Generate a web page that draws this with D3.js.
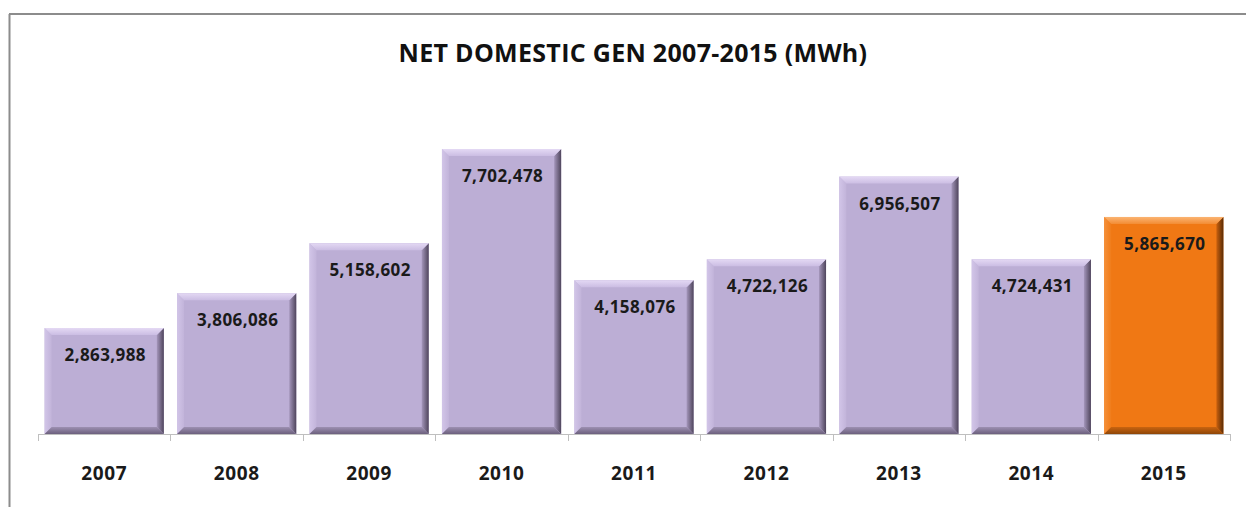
<!DOCTYPE html>
<html>
<head>
<meta charset="utf-8">
<script src="https://cdn.jsdelivr.net/npm/d3@7"></script>
<style>
  body { margin: 0; background: #fff; }
  svg { display: block; }
</style>
</head>
<body>
<svg width="1246" height="507"></svg>
<script>
// data
var years = ["2007", "2008", "2009", "2010", "2011", "2012", "2013", "2014", "2015"];
var generation = [2863988, 3806086, 5158602, 7702478, 4158076, 4722126, 6956507, 4724431, 5865670];
var highlightYear = "2015";
var chartTitle = "NET DOMESTIC GEN 2007-2015 (MWh)";

var svg = d3.select("svg");
var margin = {left: 38, right: 16, top: 101, bottom: 73};
var width = 1246 - margin.left - margin.right,
    height = 507 - margin.top - margin.bottom;

var data = years.map(function(y, i) { return {year: y, value: generation[i]}; });

var x = d3.scaleBand().domain(years).range([0, width]).paddingInner(0.1).paddingOuter(0.05);
var y = d3.scaleLinear().domain([0, 9000000]).range([height, 0]);

// frame
svg.append("line").attr("x1", 9).attr("x2", 1246).attr("y1", 14).attr("y2", 14)
  .attr("stroke", "#8c8c8c").attr("stroke-width", 2);
svg.append("line").attr("x1", 9.5).attr("x2", 9.5).attr("y1", 14).attr("y2", 507)
  .attr("stroke", "#8c8c8c").attr("stroke-width", 2);

svg.append("text")
  .attr("x", 633).attr("y", 62)
  .attr("text-anchor", "middle")
  .style("font-family", "'Open Sans', sans-serif")
  .style("font-weight", "bold")
  .style("font-size", "25px")
  .style("letter-spacing", "0.3px")
  .attr("fill", "#111")
  .text(chartTitle);

var palettes = {
  normal: {face: "#bcaed5", top: ["#e4d9f4", "#cbbde3"], left: ["#d2c5e8", "#c2b4da"],
           right: ["#a496bb", "#4f455c"], bottom: ["#9d90b2", "#6c607d"]},
  hi: {face: "#f07814", top: ["#fbb472", "#f38c34"], left: ["#f5903a", "#f07c1a"],
       right: ["#c8600e", "#5a2c06"], bottom: ["#c96410", "#8e4608"]}
};

// gradients for the bevel faces
var defs = svg.append("defs");
function grad(id, stops, x1, y1, x2, y2) {
  var lg = defs.append("linearGradient").attr("id", id)
    .attr("x1", x1).attr("y1", y1).attr("x2", x2).attr("y2", y2);
  lg.append("stop").attr("offset", "0%").attr("stop-color", stops[0]);
  lg.append("stop").attr("offset", "100%").attr("stop-color", stops[1]);
}
Object.keys(palettes).forEach(function(k) {
  var p = palettes[k];
  grad(k + "-top", p.top, 0, 0, 0, 1);
  grad(k + "-left", p.left, 0, 0, 1, 0);
  grad(k + "-right", p.right, 0, 0, 1, 0);
  grad(k + "-bottom", p.bottom, 0, 0, 0, 1);
});

var g = svg.append("g").attr("transform", "translate(" + margin.left + "," + margin.top + ")");

var bev = 7;
var bars = g.selectAll(".bar").data(data).enter().append("g").attr("class", "bar");

bars.each(function(d) {
  var k = d.year === highlightYear ? "hi" : "normal";
  var p = palettes[k];
  var x0 = x(d.year), x1 = x0 + x.bandwidth(), y0 = y(d.value), y1 = y(0);
  var sel = d3.select(this);
  sel.append("rect").attr("x", x0).attr("y", y0).attr("width", x1 - x0).attr("height", y1 - y0).attr("fill", p.face);
  var poly = function(pts, side) {
    sel.append("polygon").attr("points", pts.map(function(q) { return q.join(","); }).join(" "))
      .attr("fill", "url(#" + k + "-" + side + ")");
  };
  poly([[x0, y0], [x0 + bev, y0 + bev], [x0 + bev, y1 - bev], [x0, y1]], "left");
  poly([[x1, y0], [x1, y1], [x1 - bev, y1 - bev], [x1 - bev, y0 + bev]], "right");
  poly([[x0, y1], [x0 + bev, y1 - bev], [x1 - bev, y1 - bev], [x1, y1]], "bottom");
  poly([[x0, y0], [x1, y0], [x1 - bev, y0 + bev], [x0 + bev, y0 + bev]], "top");
  sel.append("text")
    .attr("x", (x0 + x1) / 2 + 1).attr("y", y0 + 33)
    .attr("text-anchor", "middle")
    .style("font-family", "'Open Sans', sans-serif")
    .style("font-weight", "bold")
    .style("font-size", "17px")
    .style("letter-spacing", "0.4px")
    .attr("fill", "#1a1a1a")
    .text(d3.format(",")(d.value));
});

// x axis with ticks between categories
var axis = g.append("g").attr("transform", "translate(0," + height + ")");
axis.append("line").attr("x1", 0).attr("x2", width).attr("y1", 0.5).attr("y2", 0.5).attr("stroke", "#bfbfbf");
var bounds = d3.range(years.length + 1).map(function(i) { return i * width / years.length; });
axis.selectAll(".tick").data(bounds).enter().append("line")
  .attr("x1", function(d) { return Math.round(d) + 0.5; }).attr("x2", function(d) { return Math.round(d) + 0.5; })
  .attr("y1", 0).attr("y2", 7).attr("stroke", "#bfbfbf");
axis.selectAll(".lbl").data(years).enter().append("text")
  .attr("x", function(d, i) { return (bounds[i] + bounds[i + 1]) / 2; })
  .attr("y", 46)
  .attr("text-anchor", "middle")
  .style("font-family", "'Open Sans', sans-serif")
  .style("font-weight", "bold")
  .style("font-size", "19px")
  .style("letter-spacing", "0.6px")
  .attr("fill", "#1a1a1a")
  .text(function(d) { return d; });
</script>
</body>
</html>
